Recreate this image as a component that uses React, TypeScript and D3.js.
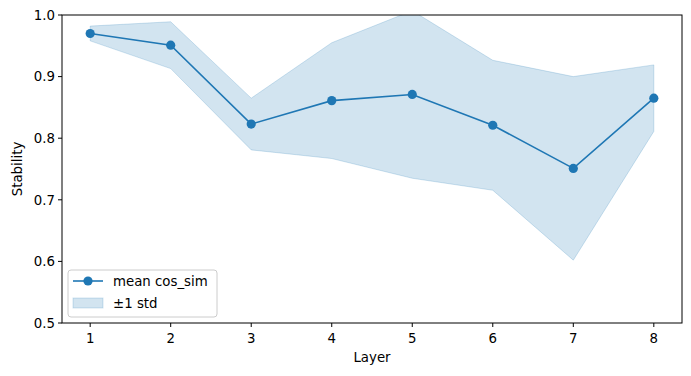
import React from 'react';
import * as d3 from 'd3';

const layers = [1, 2, 3, 4, 5, 6, 7, 8];
const meanCos = [0.970, 0.951, 0.823, 0.861, 0.871, 0.821, 0.751, 0.865];
const stdCos = [0.012, 0.038, 0.042, 0.094, 0.136, 0.1055, 0.149, 0.054];
const yTicks = [0.5, 0.6, 0.7, 0.8, 0.9, 1.0];

const BLUE = '#1f77b4';
const FONT = 'DejaVu Sans, sans-serif';
const FS = 13.33;

const App: React.FC = () => {
  const W = 691, H = 376;
  const margin = { top: 15, right: 9, bottom: 53, left: 62 };
  const innerW = W - margin.left - margin.right;
  const innerH = H - margin.top - margin.bottom;

  const x = d3.scaleLinear().domain([0.65, 8.35]).range([0, innerW]);
  const y = d3.scaleLinear().domain([0.5, 1.0]).range([innerH, 0]);

  const rows = layers.map((l, i) => ({ l, m: meanCos[i], s: stdCos[i] }));

  const area = d3.area<typeof rows[0]>()
    .x(d => x(d.l))
    .y0(d => y(d.m - d.s))
    .y1(d => y(d.m + d.s));
  const line = d3.line<typeof rows[0]>()
    .x(d => x(d.l))
    .y(d => y(d.m));

  return (
    <svg width={W} height={H} style={{ position: 'absolute', left: 0, top: 0 }} fontFamily={FONT}>
      <defs>
        <clipPath id="plotclip">
          <rect x={0} y={0} width={innerW} height={innerH} />
        </clipPath>
      </defs>
      <rect width={W} height={H} fill="#fff" />
      <g transform={`translate(${margin.left},${margin.top})`}>
        <g clipPath="url(#plotclip)">
          <path d={area(rows)!} fill={BLUE} fillOpacity={0.2} stroke={BLUE} strokeOpacity={0.2} strokeWidth={1} />
          <path d={line(rows)!} fill="none" stroke={BLUE} strokeWidth={1.6} />
          {rows.map(d => (
            <circle key={d.l} cx={x(d.l)} cy={y(d.m)} r={4.6} fill={BLUE} />
          ))}
        </g>
        <rect x={0} y={0} width={innerW} height={innerH} fill="none" stroke="#000" strokeWidth={1} />
        {layers.map(l => (
          <g key={l} transform={`translate(${x(l)},${innerH})`}>
            <line y2={4} stroke="#000" />
            <text y={19.5} textAnchor="middle" fontSize={FS}>{l}</text>
          </g>
        ))}
        {yTicks.map(t => (
          <g key={t} transform={`translate(0,${y(t)})`}>
            <line x2={-4} stroke="#000" />
            <text x={-7} dy="0.36em" textAnchor="end" fontSize={FS}>{t.toFixed(1)}</text>
          </g>
        ))}
        <text x={innerW / 2} y={innerH + 39} textAnchor="middle" fontSize={FS}>Layer</text>
        <text transform={`translate(${-40},${innerH / 2}) rotate(-90)`} textAnchor="middle" fontSize={FS}>Stability</text>

        <g transform="translate(6,255)">
          <rect x={0} y={0} width={149} height={47} rx={3} fill="#fff" fillOpacity={0.8} stroke="#ccc" />
          <line x1={5} x2={35} y1={11} y2={11} stroke={BLUE} strokeWidth={1.6} />
          <circle cx={20} cy={11} r={4.6} fill={BLUE} />
          <text x={45} y={11} dy="0.36em" fontSize={FS}>mean cos_sim</text>
          <rect x={5} y={28} width={30} height={10} fill={BLUE} fillOpacity={0.2} stroke={BLUE} strokeOpacity={0.2} />
          <text x={45} y={33} dy="0.36em" fontSize={FS}>±1 std</text>
        </g>
      </g>
    </svg>
  );
};

export default App;
